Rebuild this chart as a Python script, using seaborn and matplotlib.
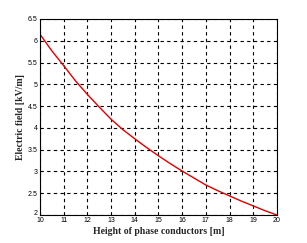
import matplotlib
matplotlib.use("Agg")
import matplotlib.pyplot as plt
import matplotlib.transforms as mtransforms
import seaborn as sns
import pandas as pd

height = [10, 10.5, 11, 11.5, 12, 12.5, 13, 13.5, 14, 14.5, 15, 15.5, 16, 16.5, 17, 17.5, 18, 18.5, 19, 19.5, 20]
field = [6.15, 5.77, 5.43, 5.08, 4.77, 4.48, 4.2, 3.96, 3.75, 3.55, 3.36, 3.18, 3.01, 2.85, 2.69, 2.56, 2.44, 2.32, 2.21, 2.1, 2.0]
xticks = list(range(10, 21))
yticks = [2, 2.5, 3, 3.5, 4, 4.5, 5, 5.5, 6, 6.5]
ytick_labels = ["2", "2.5", "3", "3.5", "4", "4.5", "5", "5.5", "6", "6.5"]

sns.set_style("white")
df = pd.DataFrame({"h": height, "E": field})

fig = plt.figure(figsize=(3.07, 2.43), dpi=100)
ax = fig.add_axes([0.130, 0.115, 0.772, 0.807])
sns.lineplot(data=df, x="h", y="E", ax=ax, color="#e00000", linewidth=1.0)

ax.set_xlim(10, 20)
ax.set_ylim(2, 6.5)
ax.set_xticks(xticks)
ax.set_yticks(yticks)
ax.set_xticklabels([str(t) for t in xticks], fontsize=5, family="Liberation Sans")
ax.set_yticklabels(ytick_labels, fontsize=5, family="Liberation Sans")
ax.tick_params(direction="in", length=2, width=0.6, pad=1.5, colors="black")
ax.grid(True, color="black", linestyle=(0, (3, 3)), linewidth=0.8)
for s in ax.spines.values():
    s.set_color("black")
    s.set_linewidth(0.8)
ax.set_xlabel("Height of phase conductors [m]", fontsize=7, family="Liberation Serif", fontweight="bold", labelpad=2)
ax.set_ylabel("Electric field [kV/m]", fontsize=7, family="Liberation Serif", fontweight="bold", labelpad=2)

# nudge the lowest y tick label upward so it clears the first x tick label
lab = ax.get_yticklabels()[0]
lab.set_transform(lab.get_transform() + mtransforms.ScaledTranslation(0, 3 / 100, fig.dpi_scale_trans))

fig.savefig("out.png", dpi=100)
